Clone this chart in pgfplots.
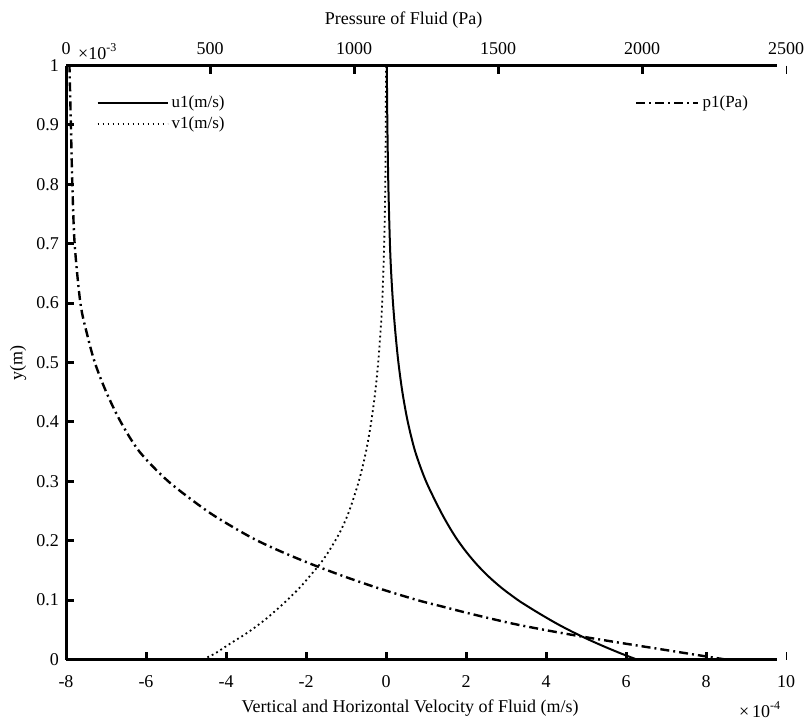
\documentclass[border=0pt]{standalone}
\usepackage{fontspec}
\setmainfont{Liberation Serif}
\usepackage{pgfplots}
\pgfplotsset{compat=1.18}
\begin{document}
\begin{tikzpicture}
\path[use as bounding box] (-33pt,-29.75pt) rectangle (370pt,329.75pt);
\pgfplotsset{
  common/.style={
    scale only axis, width=360pt, height=297pt,
    at={(0pt,0pt)}, anchor=south west,
    ymin=0, ymax=1, clip=false,
    axis line style={line width=1.5pt, -},
    x axis line style={shorten >=4.5pt},
    tick style={line width=1.5pt, black},
    major tick length=4pt,
    tick align=inside,
    extra x tick style={tick style={line width=0.5pt, black}},
    font=\fontsize{9}{10}\selectfont,
    tick label style={font=\fontsize{9}{10}\selectfont},
    legend style={draw=none, fill=none, font=\fontsize{8.5}{9}\selectfont,
      row sep=0pt, inner sep=0pt, nodes={inner sep=1.5pt}},
    legend cell align=left,
  }
}
\begin{axis}[common,
  xmin=-8, xmax=10,
  axis x line*=bottom, axis y line*=left,
  xtick={-8,-6,-4,-2,0,2,4,6,8},
  xticklabels={-8,-6,-4,-2,0,2,4,6,8},
  extra x ticks={10}, extra x tick labels={10},
  ytick={0,0.1,0.2,0.3,0.4,0.5,0.6,0.7,0.8,0.9,1},
  yticklabels={0,0.1,0.2,0.3,0.4,0.5,0.6,0.7,0.8,0.9,1},
  xticklabel style={yshift=-4.5pt},
  xlabel={Vertical and Horizontal Velocity of Fluid (m/s)},
  xlabel style={at={(rel axis cs:0.478,0)}, anchor=center, yshift=-24.5pt},
  ylabel={y(m)},
  ylabel style={at={(rel axis cs:0,0.5)}, anchor=center, yshift=24pt},
  legend style={at={(rel axis cs:0.042,0.955)}, anchor=north west},
  legend image code/.code={\draw[#1] (0pt,0pt) -- (35pt,0pt);},
]
\addplot[black, line width=1pt, smooth] coordinates {
(6.27,0) (5.88,0.01) (5.52,0.02) (5.18,0.03) (4.86,0.04) (4.56,0.05) (4.28,0.06)
(4.02,0.07) (3.77,0.08) (3.53,0.09) (3.30,0.10) (2.90,0.12) (2.56,0.14) (2.27,0.16)
(2.02,0.18) (1.80,0.20) (1.61,0.22) (1.36,0.25) (1.00,0.30) (0.73,0.35) (0.545,0.40)
(0.41,0.45) (0.31,0.50) (0.235,0.55) (0.175,0.60) (0.13,0.65) (0.098,0.70)
(0.058,0.80) (0.034,0.90) (0.02,1.00)};
\addlegendentry{u1(m/s)}
\addplot[black, line width=0.9pt, dash pattern=on 0.9pt off 1.6pt, smooth] coordinates {
(-4.58,0) (-4.28,0.01) (-4.05,0.02) (-3.82,0.03) (-3.58,0.04) (-3.36,0.05) (-3.16,0.06)
(-2.97,0.07) (-2.80,0.08) (-2.63,0.09) (-2.47,0.10) (-2.17,0.12) (-1.91,0.14)
(-1.66,0.16) (-1.45,0.18) (-1.27,0.20) (-1.11,0.22) (-0.92,0.25) (-0.68,0.30)
(-0.50,0.35) (-0.37,0.40) (-0.27,0.45) (-0.195,0.50) (-0.14,0.55) (-0.095,0.60)
(-0.045,0.70) (-0.018,0.80) (-0.006,0.90) (0,1.0)};
\addlegendentry{v1(m/s)}
\node[anchor=west, font=\fontsize{9}{10}\selectfont] at (rel axis cs:0.925,0) [yshift=-25pt] {×\,10\textsuperscript{-4}};
\end{axis}
\begin{axis}[common,
  xmin=0, xmax=2500,
  axis x line*=top, axis y line=none,
  xtick={0,500,1000,1500,2000},
  xticklabels={0,500,1000,1500,2000},
  extra x ticks={2500}, extra x tick labels={2500},
  xticklabel style={yshift=2pt},
  xlabel={Pressure of Fluid (Pa)},
  xlabel style={at={(rel axis cs:0.469,1)}, anchor=center, yshift=22.5pt},
  legend style={at={(rel axis cs:0.79,0.955)}, anchor=north west},
  legend image code/.code={\draw[#1] (0pt,0pt) -- (31pt,0pt);},
]
\addplot[black, line width=1.2pt, dash pattern=on 4.5pt off 2pt on 1pt off 2pt, smooth] coordinates {
(2290,0) (2160,0.01) (2030,0.02) (1900,0.03) (1775,0.04) (1660,0.05) (1555,0.06)
(1465,0.07) (1380,0.08) (1300,0.09) (1220,0.10) (1085,0.12) (965,0.14) (855,0.16)
(755,0.18) (665,0.20) (590,0.22) (490,0.25) (355,0.30) (255,0.35) (190,0.40)
(140,0.45) (100,0.50) (72,0.55) (50,0.60) (30,0.70) (22,0.80) (17,0.90) (12,1.0)};
\addlegendentry{p1(Pa)}
\node[anchor=west, font=\fontsize{9}{10}\selectfont] at (rel axis cs:0.007,1) [yshift=7pt] {×10\textsuperscript{-3}};
\end{axis}
\end{tikzpicture}
\end{document}
